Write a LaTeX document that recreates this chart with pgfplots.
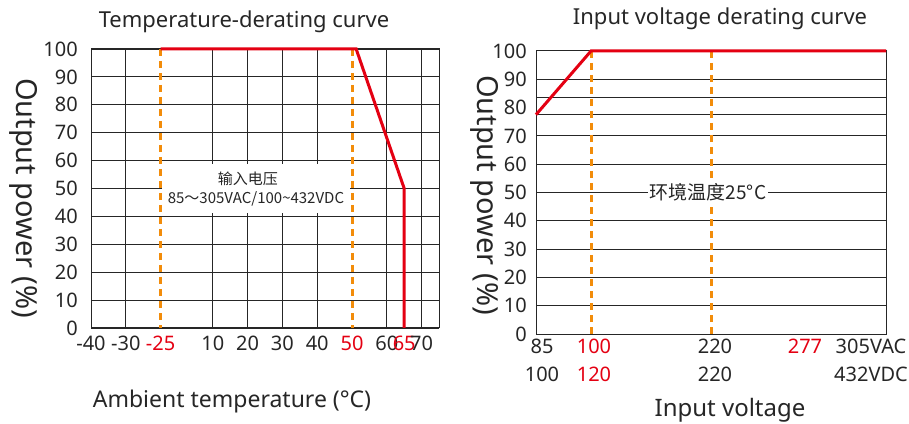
\documentclass[border=0pt]{standalone}
\usepackage{pgfplots}
\pgfplotsset{compat=1.18}
\usepackage{fontspec}
\setmainfont{Noto Sans}
\newfontfamily\cjk{Noto Sans CJK SC}
\definecolor{cred}{RGB}{228,0,18}
\definecolor{corange}{RGB}{242,140,10}
\pgfplotsset{
  derate/.style={
    scale only axis, clip=false,
    axis line style={black!85, line width=1pt},
    major tick length=0,
    grid style={black!85, line width=0.9pt},
    ymin=0, ymax=100, ytick={0,10,...,100},
    /pgf/number format/assume math mode=true,
    ticklabel style={font=\fontsize{20}{28}\selectfont, text=black!85},
  },
  redline/.style={cred, line width=3pt},
  orangedash/.style={corange, line width=3pt, dash pattern=on 7pt off 5pt},
}
\begin{document}
\begin{tikzpicture}
\useasboundingbox (0pt,0pt) rectangle (909pt,423pt);

% left: temperature derating (x at positions, ticks not linear)
\begin{axis}[derate,
  at={(91pt,95pt)}, anchor=south west, width=348pt, height=279pt,
  xmin=0, xmax=10,
  xtick={0,1,2,3.5,4.5,5.5,6.5,7.5,8.5,9,9.5},
  xticklabels={-40,-30,\textcolor{cred}{-25},10,20,30,40,\textcolor{cred}{50},60,\textcolor{cred}{65},70},
  ymajorgrids,
  extra x ticks={1,3.5,4.5,5.5,6.5,8.5,9.5}, extra x tick labels={},
  extra x tick style={grid=major},
  xticklabel style={inner sep=0pt, anchor=north, yshift=-8pt},
  yticklabel style={inner sep=0pt, anchor=east, xshift=-13pt},
]
\fill[white] (axis cs:2.05,41.2) rectangle (axis cs:7.45,58.8);
\addplot[orangedash] coordinates {(2,100) (2,0)};
\addplot[orangedash] coordinates {(7.5,100) (7.5,0)};
\addplot[redline] coordinates {(2,100) (7.62,100) (9,50) (9,0)};
\node[font=\cjk\fontsize{15}{18}\selectfont, text=black!85] at (axis cs:4.51,53.4) {输入电压};
\node[font=\cjk\fontsize{15}{18}\selectfont, text=black!85] at (axis cs:4.74,46.2) {85～305VAC/100{\char"7E}432VDC};
\end{axis}

% right: input voltage derating
\begin{axis}[derate,
  at={(536pt,89pt)}, anchor=south west, width=350pt, height=283pt,
  xmin=0, xmax=350,
  xtick={6,58,179,269,335},
  xticklabels={{85\\100},{\textcolor{cred}{100}\\\textcolor{cred}{120}},{220\\220},{\textcolor{cred}{277}},{305VAC\\432VDC}},
  extra y ticks={10,20,30,40,50,60,70,77.5,83.5,90}, extra y tick labels={},
  extra y tick style={grid=major},
  xticklabel style={inner sep=0pt, anchor=north, align=center, yshift=-5pt},
  yticklabel style={inner sep=0pt, anchor=east, xshift=-9pt},
]
\addplot[orangedash] coordinates {(55,100) (55,0)};
\addplot[orangedash] coordinates {(175,100) (175,0)};
\addplot[redline] coordinates {(0,77.5) (55,100) (350,100)};
\node[fill=white, inner sep=2pt, font=\cjk\fontsize{19}{22}\selectfont, text=black!85] at (axis cs:172,50) {环境温度25°C};
\end{axis}

\node[font=\fontsize{22}{26}\selectfont, text=black!85] at (244pt,401pt) {Temperature-derating curve};
\node[font=\fontsize{22}{26}\selectfont, text=black!85] at (720pt,404pt) {Input voltage derating curve};
\node[font=\fontsize{23}{28}\selectfont, text=black!85] at (232pt,21pt) {Ambient temperature (°C)};
\node[font=\fontsize{24}{28}\selectfont, text=black!85] at (730pt,13pt) {Input voltage};
\node[rotate=-90, font=\fontsize{29}{34}\selectfont, text=black!85] at (24pt,225pt) {Output power (\%)};
\node[rotate=-90, font=\fontsize{29}{34}\selectfont, text=black!85] at (485pt,228pt) {Output power (\%)};
\end{tikzpicture}
\end{document}
